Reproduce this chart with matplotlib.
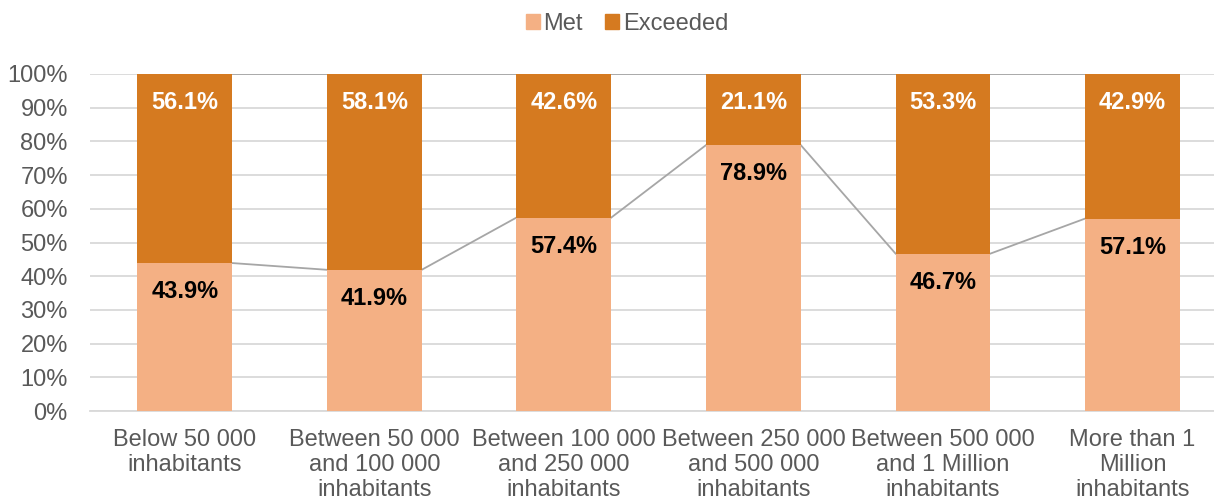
import matplotlib.pyplot as plt
from matplotlib.patches import Patch

plt.rcParams['font.family'] = ['Liberation Sans', 'DejaVu Sans']

categories = [
    'Below 50 000\ninhabitants',
    'Between 50 000\nand 100 000\ninhabitants',
    'Between 100 000\nand 250 000\ninhabitants',
    'Between 250 000\nand 500 000\ninhabitants',
    'Between 500 000\nand 1 Million\ninhabitants',
    'More than 1\nMillion\ninhabitants',
]
met = [43.9, 41.9, 57.4, 78.9, 46.7, 57.1]
exceeded = [56.1, 58.1, 42.6, 21.1, 53.3, 42.9]

MET_COLOR = '#F4B084'
EXC_COLOR = '#D57A20'
TEXT_GRAY = '#595959'
FS = 17

fig = plt.figure(figsize=(12.14, 5.03), dpi=100)
ax = fig.add_axes([90 / 1214, 1 - 411 / 503, 1 - 90 / 1214, 337 / 503])

x = list(range(len(categories)))
width = 0.5
ax.bar(x, met, width, color=MET_COLOR, zorder=3)
ax.bar(x, exceeded, width, bottom=met, color=EXC_COLOR, zorder=3)

# series lines between bars
for i in range(len(x) - 1):
    ax.plot([i + width / 2, i + 1 - width / 2], [met[i], met[i + 1]],
            color='#A6A6A6', lw=1.3, zorder=2)
    top_i = met[i] + exceeded[i]
    top_n = met[i + 1] + exceeded[i + 1]
    ax.plot([i + width / 2, i + 1 - width / 2], [top_i, top_n],
            color='#A6A6A6', lw=1.3, zorder=2)

for i in x:
    ax.annotate(f'{met[i]:.1f}%', (i, met[i]), xytext=(0, -20.5),
                textcoords='offset points', ha='center', va='center',
                fontsize=FS, fontweight='bold', color='black', zorder=4)
    ax.annotate(f'{exceeded[i]:.1f}%', (i, met[i] + exceeded[i]), xytext=(0, -20.5),
                textcoords='offset points', ha='center', va='center',
                fontsize=FS, fontweight='bold', color='white', zorder=4)

ax.set_ylim(0, 100)
ax.set_xlim(-0.5, 5.43)
ax.set_yticks(range(0, 101, 10))
ax.set_yticklabels([f'{v}%' for v in range(0, 101, 10)])
ax.set_xticks(x)
ax.set_xticklabels(categories, linespacing=1.18)
ax.tick_params(axis='both', length=0, labelsize=FS, colors=TEXT_GRAY)
ax.tick_params(axis='x', pad=13)
ax.tick_params(axis='y', pad=16)
ax.yaxis.grid(True, color='#D9D9D9', lw=1.3, zorder=0)
ax.set_axisbelow(True)
for side in ['top', 'right', 'left']:
    ax.spines[side].set_visible(False)
ax.spines['bottom'].set_color('#D9D9D9')
ax.spines['bottom'].set_linewidth(1.3)

handles = [Patch(color=MET_COLOR, label='Met'), Patch(color=EXC_COLOR, label='Exceeded')]
fig.legend(handles=handles, loc='center', bbox_to_anchor=(627 / 1214, 1 - 24 / 503),
           ncol=2, frameon=False, fontsize=FS, handlelength=0.6, handleheight=0.6,
           handletextpad=0.15, columnspacing=0.95, labelcolor=TEXT_GRAY)

fig.savefig('out.png', dpi=100)
